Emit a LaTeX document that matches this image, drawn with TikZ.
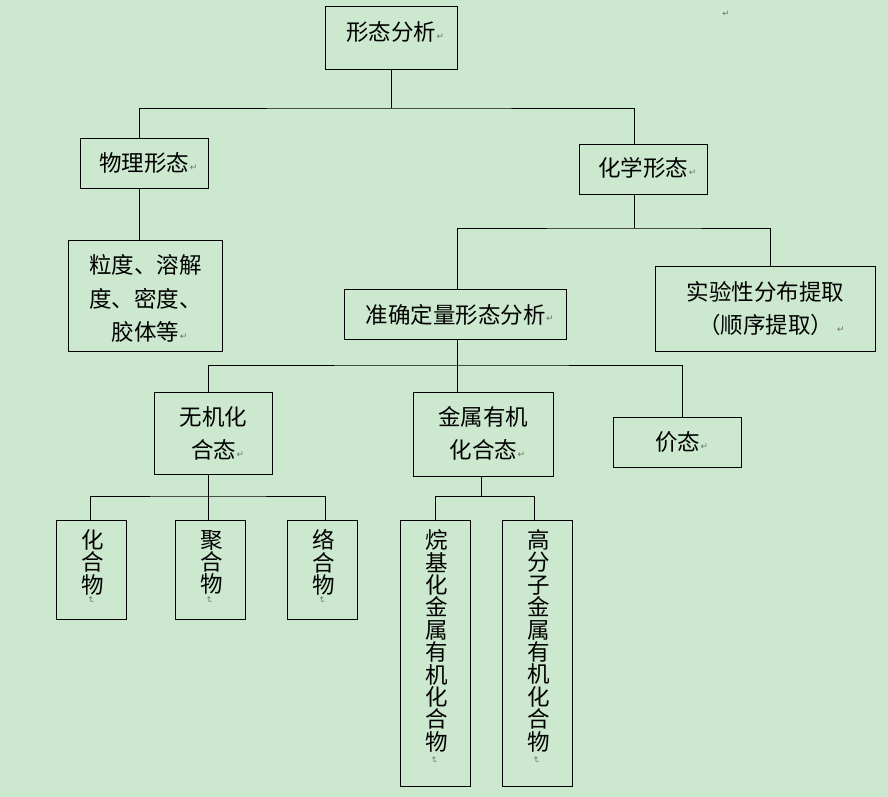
\documentclass[tikz,border=0pt]{standalone}
\usepackage{fontspec}
\setmainfont{Noto Sans CJK SC}
\newfontfamily\markfont{DejaVu Sans}
\definecolor{bg}{HTML}{CCE8CF}
\definecolor{markgray}{HTML}{707070}
\newcommand\pmark{\rlap{\hspace{0.5pt}\raisebox{1.5pt}{\markfont\fontsize{9}{9}\selectfont\textcolor{markgray}{↵}}}}
\begin{document}
\begin{tikzpicture}[x=1pt,y=-1pt,
  box/.style={draw=black, line width=0.9pt, inner sep=0pt},
  txt/.style={inner sep=0pt, align=center, font=\fontsize{22.5}{33.5}\selectfont},
  vtxt/.style={inner sep=0pt, align=center, font=\fontsize{22.5}{22.4}\selectfont},
  markn/.style={inner sep=0pt, font=\markfont\fontsize{8.5}{8.5}\selectfont, text=markgray},
  link/.style={draw=black, line width=0.9pt}]
\fill[bg] (0,0) rectangle (888,797);
\useasboundingbox (0,0) rectangle (888,797);

% boxes
\node[box, minimum width=132pt, minimum height=63pt] (top) at (391,37.5) {};
\node[box, minimum width=128.7pt, minimum height=50pt] (phys) at (144.3,163) {};
\node[box, minimum width=128pt, minimum height=50pt] (chem) at (643.3,169) {};
\node[box, minimum width=154.2pt, minimum height=111pt] (part) at (145.6,295.5) {};
\node[box, minimum width=222.4pt, minimum height=49.6pt] (quant) at (455.5,314.5) {};
\node[box, minimum width=220.4pt, minimum height=85.3pt] (seq) at (765.5,308.65) {};
\node[box, minimum width=118.4pt, minimum height=82pt] (inorg) at (213.5,433.3) {};
\node[box, minimum width=140pt, minimum height=84pt] (metal) at (483.3,434.3) {};
\node[box, minimum width=128.4pt, minimum height=50pt] (val) at (677.5,442.3) {};
\node[box, minimum width=70.4pt, minimum height=99pt] (c1) at (91.5,569.8) {};
\node[box, minimum width=70.4pt, minimum height=99pt] (c2) at (210.5,569.8) {};
\node[box, minimum width=70.4pt, minimum height=99pt] (c3) at (322.5,569.8) {};
\node[box, minimum width=70.4pt, minimum height=266pt] (m1) at (435.5,653.3) {};
\node[box, minimum width=70.4pt, minimum height=266pt] (m2) at (537.5,653.3) {};

% texts
\node[txt] (topt) at ([yshift=5.5pt]top.center) {形态分析\pmark};
\node[txt] (physt) at (phys.center) {物理形态\pmark};
\node[txt] (chemt) at ([yshift=1pt]chem.center) {化学形态\pmark};
\node[txt] (partt) at ([yshift=-3pt]part.center) {粒度、溶解\\度、密度、\\胶体等\pmark};
\node[txt] (quantt) at (quant.center) {准确定量形态分析\pmark};
\node[txt] (seqt) at (seq.center) {实验性分布提取\\（顺序提取）\rlap{\hspace{4pt}\raisebox{1.5pt}{\markfont\fontsize{9}{9}\selectfont\textcolor{markgray}{↵}}}};
\node[txt] (inorgt) at (inorg.center) {无机化\\合态\pmark};
\node[txt] (metalt) at ([yshift=1pt]metal.center) {金属有机\\化合态\pmark};
\node[txt] (valt) at (val.center) {价态\pmark};
\node[vtxt] (c1t) at ([xshift=1.5pt,yshift=7.4pt]c1.center) {化\\合\\物};
\node[vtxt] (c2t) at ([xshift=1.5pt,yshift=7.4pt]c2.center) {聚\\合\\物};
\node[vtxt] (c3t) at ([xshift=1.5pt,yshift=7.4pt]c3.center) {络\\合\\物};
\node[vtxt] (m1t) at ([xshift=1.2pt,yshift=12.5pt]m1.center) {烷\\基\\化\\金\\属\\有\\机\\化\\合\\物};
\node[vtxt] (m2t) at ([xshift=1.5pt,yshift=12.5pt]m2.center) {高\\分\\子\\金\\属\\有\\机\\化\\合\\物};

% paragraph marks
\node[markn] (pm0) at (726,14) {↵};
\node[markn, rotate=-90] (pm1) at (90.7,600) {↵};
\node[markn, rotate=-90] (pm2) at (209,600) {↵};
\node[markn, rotate=-90] (pm3) at (321.7,600) {↵};
\node[markn, rotate=-90] (pm4) at (434,760) {↵};
\node[markn, rotate=-90] (pm5) at (536,760) {↵};

% connectors
\coordinate (b1) at (391,108);
\draw[link] (top.south) -- (b1);
\draw[link] ([xshift=-5.3pt]phys.north) |- (b1) -| ([xshift=-9.3pt]chem.north);
\draw[link] ([xshift=-5.3pt]phys.south) -- ([xshift=-6.6pt]part.north);

\coordinate (b2) at (634,228);
\draw[link] ([xshift=-9.3pt]chem.south) -- (b2);
\draw[link] ([xshift=1.8pt]quant.north) |- (b2) -| ([xshift=4.8pt]seq.north);

\coordinate (b3) at (457.3,365);
\draw[link] ([xshift=1.8pt]quant.south) -- (b3);
\draw[link] ([xshift=-5.2pt]inorg.north) |- (b3) -| ([xshift=5.2pt]val.north);
\draw[link] ([xshift=-26pt]metal.north) -- (b3);

\coordinate (b4) at (208.3,496);
\draw[link] ([xshift=-5.2pt]inorg.south) -- ([xshift=-2.2pt]c2.north);
\draw[link] ([xshift=-1.2pt]c1.north) |- (b4) -| ([xshift=2.8pt]c3.north);

\coordinate (b5) at (481.3,496.3);
\draw[link] ([xshift=-2pt]metal.south) -- (b5);
\draw[link] ([xshift=-0.2pt]m1.north) |- (b5) -| ([xshift=-3.2pt]m2.north);
\end{tikzpicture}
\end{document}
